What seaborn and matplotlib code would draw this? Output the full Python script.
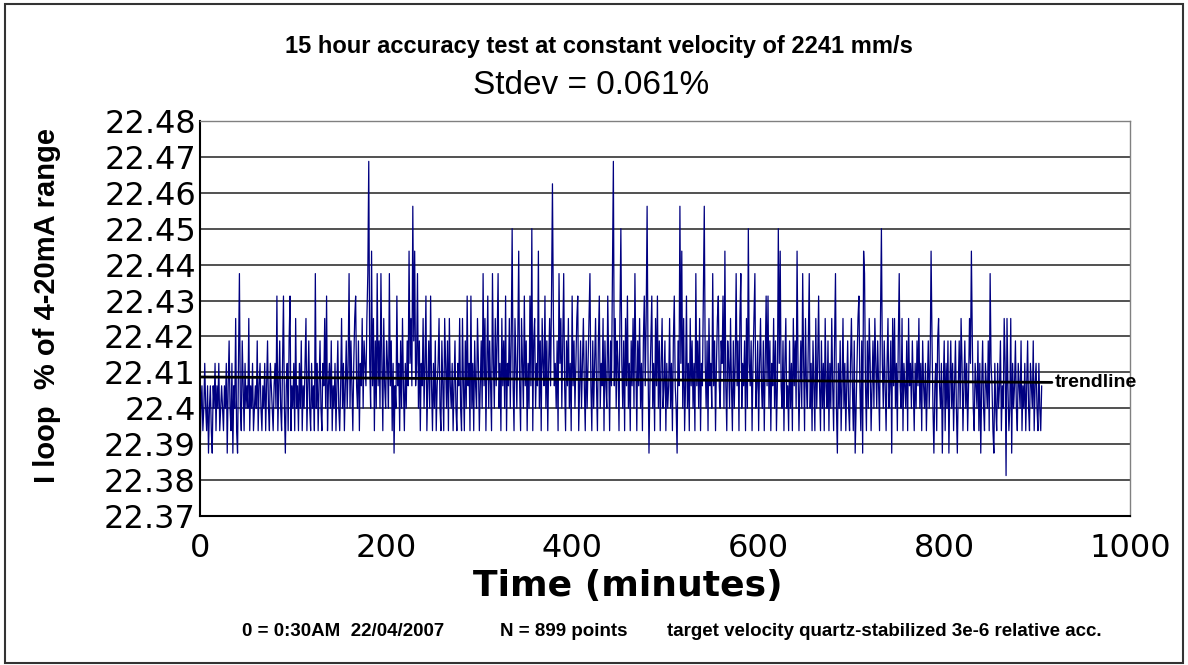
import numpy as np
import pandas as pd
import matplotlib
matplotlib.use("Agg")
import matplotlib.pyplot as plt
import seaborn as sns
from matplotlib.patches import Rectangle

# quantized loop current levels seen in the chart (% of 4-20mA range)
levels = [22.38125, 22.3875, 22.39375, 22.4, 22.40625, 22.4125, 22.41875,
          22.425, 22.43125, 22.4375, 22.44375, 22.45, 22.45625, 22.4625, 22.46875]

# one character per sample, index into levels (0-9 then a-e), 899 samples
level_codes = (
    "1342353241" "3421435243" "5234324351" "4632514372" "1593264253"
    "4372435234" "3624532435" "2463254324" "5382463258" "3145268243"
    "5273425362" "4357246325" "3429352463" "2547382453" "6243524632"
    "4735246359" "3642578436" "2547365479" "e53a472639" "4639527436"
    "5394625143" "8452637425" "364a574c6a" "4593625473" "5824638425"
    "3624573264" "2753627435" "2463254732" "7426384528" "3526437524"
    "6394725836" "4295374693" "5274638254" "736b427536" "a427538462"
    "5384b26735" "4a36275483" "625748d745" "3629573694" "2647352846"
    "3578246357" "4263579426" "3574268354" "7264385264" "9e4736527b"
    "5362748352" "6473952647" "3526847c51" "4683527483" "6257346253"
    "4735268431" "64c5a37248" "3527463529" "46372548c5" "3627453946"
    "2578436583" "a426537426" "3594627935" "46273b5462" "5793462574"
    "3625848362" "5473624b5a" "4362573426" "3527463a52" "4639527436"
    "9352642735" "8426352743" "6253742693" "1536247352" "4632574261"
    "35784261a9" "4263752463" "7536427b53" "6425734617" "4735269437"
    "2543627453" "6425364735" "2643524635" "a631452674" "3514625361"
    "4635246314" "6375246352" "475a632543" "6251463254" "3629542153"
    "2534624375" "0742371534" "6325436243" "5246325436" "245325324"
)
last_minute = 905

trend_x = [0, 916]
trend_y = [22.4087, 22.4072]

xticks = [0, 200, 400, 600, 800, 1000]
yticks = [22.37, 22.38, 22.39, 22.40, 22.41, 22.42, 22.43, 22.44, 22.45, 22.46, 22.47, 22.48]

values = [levels[int(c, 16)] for c in level_codes]
minutes = np.linspace(0, last_minute, len(values))
df = pd.DataFrame({"minutes": minutes, "iloop": values})

sns.set_style("white")
plt.rcParams["font.family"] = ["Liberation Sans", "DejaVu Sans"]
plt.rcParams["text.color"] = "black"
plt.rcParams["axes.labelcolor"] = "black"
plt.rcParams["xtick.color"] = "black"
plt.rcParams["ytick.color"] = "black"

fig = plt.figure(figsize=(11.88, 6.65), dpi=100)
ax = fig.add_axes([0.1684, 0.2241, 0.7828, 0.5940])

sns.lineplot(data=df, x="minutes", y="iloop", color="#000080", lw=0.9, ax=ax)
ax.plot(trend_x, trend_y, color="black", lw=2)
ax.text(trend_x[1] + 3, trend_y[1], "trendline", fontsize=14, fontweight="bold",
        va="center", ha="left", clip_on=False)

ax.set_xlim(0, 1000)
ax.set_ylim(22.37, 22.48)
ax.set_xticks(xticks)
ax.set_xticklabels([str(t) for t in xticks])
ax.set_yticks(yticks)
ax.set_yticklabels(["{:g}".format(round(t, 2)) for t in yticks])
ax.yaxis.grid(True, color="#222222", lw=1.1)
ax.set_axisbelow(True)
ax.tick_params(length=0, labelsize=23)
ax.tick_params(axis="y", pad=3)
ax.tick_params(axis="x", pad=12)
for lab in ax.get_xticklabels() + ax.get_yticklabels():
    lab.set_family("DejaVu Sans")

for s in ["left", "bottom"]:
    ax.spines[s].set_color("black")
    ax.spines[s].set_linewidth(1.5)
for s in ["top", "right"]:
    ax.spines[s].set_color("#808080")
    ax.spines[s].set_linewidth(1)

ax.set_xlabel("Time (minutes)", fontsize=26, fontweight="bold", family="DejaVu Sans")
ax.xaxis.set_label_coords(0.46, -0.135)
ax.set_ylabel("I loop  % of 4-20mA range", fontsize=21, fontweight="bold")
ax.yaxis.set_label_coords(-0.15, 0.534)

fig.text(599 / 1188, 1 - 46 / 665, "15 hour accuracy test at constant velocity of 2241 mm/s",
         fontsize=17, fontweight="bold", ha="center", va="center")
fig.text(591 / 1188, 1 - 85 / 665, "Stdev = 0.061%", fontsize=24, ha="center", va="center")

fy = 1 - 632 / 665
fig.text(242 / 1188, fy, "0 = 0:30AM  22/04/2007", fontsize=13.5, fontweight="bold", va="center")
fig.text(500 / 1188, fy, "N = 899 points", fontsize=13.5, fontweight="bold", va="center")
fig.text(667 / 1188, fy, "target velocity quartz-stabilized 3e-6 relative acc.",
         fontsize=13.5, fontweight="bold", va="center")

fig.patches.append(Rectangle((0.004, 0.003), 0.992, 0.991, transform=fig.transFigure,
                             fill=False, ec="#333333", lw=1.5))

fig.savefig("out.png", dpi=100)
